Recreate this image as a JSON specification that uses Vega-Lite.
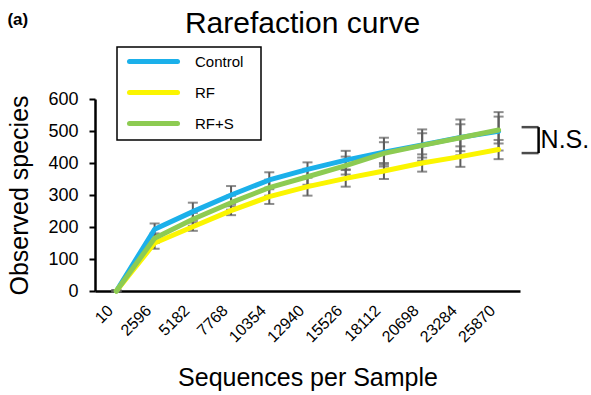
{
  "$schema": "https://vega.github.io/schema/vega-lite/v6.json",
  "autosize": "none",
  "width": 425,
  "height": 192,
  "padding": {"left": 95, "top": 99, "right": 71, "bottom": 104},
  "background": "white",
  "title": {"text": "Rarefaction curve", "fontSize": 30, "fontWeight": "normal", "font": "Liberation Sans", "color": "black", "offset": -28, "anchor": "middle", "dx": -5},
  "config": {
    "view": {"stroke": null},
    "font": "Liberation Sans",
    "axis": {"labelFont": "Liberation Sans", "titleFont": "Liberation Sans", "labelColor": "black", "titleColor": "black", "titleFontWeight": "normal", "grid": false, "domainColor": "black", "domainWidth": 2.5, "tickColor": "black", "tickWidth": 2, "labelOverlap": false}
  },
  "datasets": {
    "curves": [
      {"depth": "10", "group": "Control", "obs": 0, "err": 2},
      {"depth": "2596", "group": "Control", "obs": 193, "err": 18},
      {"depth": "5182", "group": "Control", "obs": 248, "err": 28},
      {"depth": "7768", "group": "Control", "obs": 300, "err": 28},
      {"depth": "10354", "group": "Control", "obs": 347, "err": 24},
      {"depth": "12940", "group": "Control", "obs": 380, "err": 22},
      {"depth": "15526", "group": "Control", "obs": 409, "err": 29},
      {"depth": "18112", "group": "Control", "obs": 434, "err": 45},
      {"depth": "20698", "group": "Control", "obs": 456, "err": 49},
      {"depth": "23284", "group": "Control", "obs": 480, "err": 56},
      {"depth": "25870", "group": "Control", "obs": 499, "err": 60},
      {"depth": "10", "group": "RF", "obs": 0, "err": 2},
      {"depth": "2596", "group": "RF", "obs": 150, "err": 18},
      {"depth": "5182", "group": "RF", "obs": 201, "err": 13},
      {"depth": "7768", "group": "RF", "obs": 251, "err": 14},
      {"depth": "10354", "group": "RF", "obs": 295, "err": 23},
      {"depth": "12940", "group": "RF", "obs": 326, "err": 28},
      {"depth": "15526", "group": "RF", "obs": 352, "err": 26},
      {"depth": "18112", "group": "RF", "obs": 375, "err": 25},
      {"depth": "20698", "group": "RF", "obs": 400, "err": 27},
      {"depth": "23284", "group": "RF", "obs": 420, "err": 32},
      {"depth": "25870", "group": "RF", "obs": 442, "err": 30},
      {"depth": "10", "group": "RF+S", "obs": 0, "err": 2},
      {"depth": "2596", "group": "RF+S", "obs": 165, "err": 15},
      {"depth": "5182", "group": "RF+S", "obs": 224, "err": 20},
      {"depth": "7768", "group": "RF+S", "obs": 276, "err": 22},
      {"depth": "10354", "group": "RF+S", "obs": 323, "err": 25},
      {"depth": "12940", "group": "RF+S", "obs": 357, "err": 25},
      {"depth": "15526", "group": "RF+S", "obs": 392, "err": 28},
      {"depth": "18112", "group": "RF+S", "obs": 430, "err": 35},
      {"depth": "20698", "group": "RF+S", "obs": 455, "err": 38},
      {"depth": "23284", "group": "RF+S", "obs": 479, "err": 42},
      {"depth": "25870", "group": "RF+S", "obs": 503, "err": 42}
    ],
    "labels": [
      {"depth": "10", "obs": 600, "label": "(a)"}
    ],
    "ns": [
      {"depth": "25870", "top": 512, "bottom": 431, "mid": 471, "label": "N.S."}
    ]
  },
  "layer": [
    {
      "data": {"name": "curves"},
      "mark": {"type": "errorbar", "ticks": {"size": 10, "thickness": 2}, "color": "#5c5c5c", "thickness": 2},
      "encoding": {
        "x": {"field": "depth", "type": "ordinal", "sort": ["10","2596","5182","7768","10354","12940","15526","18112","20698","23284","25870"], "scale": {"type": "point", "padding": 0.56},
          "axis": {"title": "Sequences per Sample", "titleFontSize": 25, "labelFontSize": 16, "labelAngle": -45, "labelAlign": "right", "labelBaseline": "top", "labelOffset": -12, "ticks": false, "labelPadding": 11, "titlePadding": 21}},
        "y": {"field": "obs", "type": "quantitative", "scale": {"domain": [0, 600]},
          "axis": {"title": "Observed species", "titleFontSize": 25, "labelFontSize": 18, "values": [0,100,200,300,400,500,600], "tickCount": 7, "labelOverlap": false, "tickSize": 6, "labelPadding": 11, "titlePadding": 15}},
        "yError": {"field": "err"},
        "detail": {"field": "group"}
      }
    },
    {
      "data": {"name": "curves"},
      "mark": {"type": "line", "strokeWidth": 5, "strokeCap": "round", "strokeJoin": "round"},
      "encoding": {
        "x": {"field": "depth", "type": "ordinal", "sort": ["10","2596","5182","7768","10354","12940","15526","18112","20698","23284","25870"]},
        "y": {"field": "obs", "type": "quantitative",
          "axis": {"title": "Observed species", "titleFontSize": 25, "labelFontSize": 18, "values": [0,100,200,300,400,500,600], "tickCount": 7, "labelOverlap": false, "tickSize": 6, "labelPadding": 11, "titlePadding": 15}},
        "color": {"field": "group", "type": "nominal",
          "scale": {"domain": ["Control", "RF", "RF+S"], "range": ["#1bb0ea", "#fbf500", "#8dcb52"]},
          "legend": {"title": " ", "titleOrient": "right", "titlePadding": 12, "titleFontSize": 15, "orient": "none", "legendX": 22, "legendY": -52, "strokeColor": "black", "padding": 6, "symbolType": "M-4,0H4", "symbolSize": 144, "symbolStrokeWidth": 5, "rowPadding": 10, "labelFontSize": 15, "labelFont": "Liberation Sans", "labelColor": "black", "symbolOffset": 22, "labelOffset": 33,
            "encode": {"symbols": {"update": {"strokeCap": {"value": "round"}}}, "legend": {"update": {"strokeWidth": {"value": 1.5}}}}}
        },
        "order": {"field": "group"}
      }
    },
    {
      "data": {"name": "ns"},
      "mark": {"type": "rule", "color": "black", "strokeWidth": 2.5, "xOffset": 40},
      "encoding": {
        "x": {"field": "depth", "type": "ordinal", "sort": ["10","2596","5182","7768","10354","12940","15526","18112","20698","23284","25870"]},
        "y": {"field": "top", "type": "quantitative"},
        "y2": {"field": "bottom"}
      }
    },
    {
      "data": {"name": "ns"},
      "mark": {"type": "tick", "color": "black", "thickness": 2.5, "size": 17, "xOffset": 31.5, "orient": "horizontal"},
      "encoding": {
        "x": {"field": "depth", "type": "ordinal", "sort": ["10","2596","5182","7768","10354","12940","15526","18112","20698","23284","25870"]},
        "y": {"field": "top", "type": "quantitative"}
      }
    },
    {
      "data": {"name": "ns"},
      "mark": {"type": "tick", "color": "black", "thickness": 2.5, "size": 17, "xOffset": 31.5, "orient": "horizontal"},
      "encoding": {
        "x": {"field": "depth", "type": "ordinal", "sort": ["10","2596","5182","7768","10354","12940","15526","18112","20698","23284","25870"]},
        "y": {"field": "bottom", "type": "quantitative"}
      }
    },
    {
      "data": {"name": "ns"},
      "mark": {"type": "text", "align": "left", "baseline": "middle", "dx": 42, "fontSize": 25, "font": "Liberation Sans", "color": "black"},
      "encoding": {
        "x": {"field": "depth", "type": "ordinal", "sort": ["10","2596","5182","7768","10354","12940","15526","18112","20698","23284","25870"]},
        "y": {"field": "mid", "type": "quantitative"},
        "text": {"field": "label"}
      }
    },
    {
      "data": {"name": "labels"},
      "mark": {"type": "text", "align": "left", "baseline": "middle", "dx": -109, "dy": -79, "fontSize": 17, "fontWeight": "bold", "font": "Liberation Sans", "color": "black"},
      "encoding": {
        "x": {"field": "depth", "type": "ordinal", "sort": ["10","2596","5182","7768","10354","12940","15526","18112","20698","23284","25870"]},
        "y": {"field": "obs", "type": "quantitative"},
        "text": {"field": "label"}
      }
    }
  ]
}
